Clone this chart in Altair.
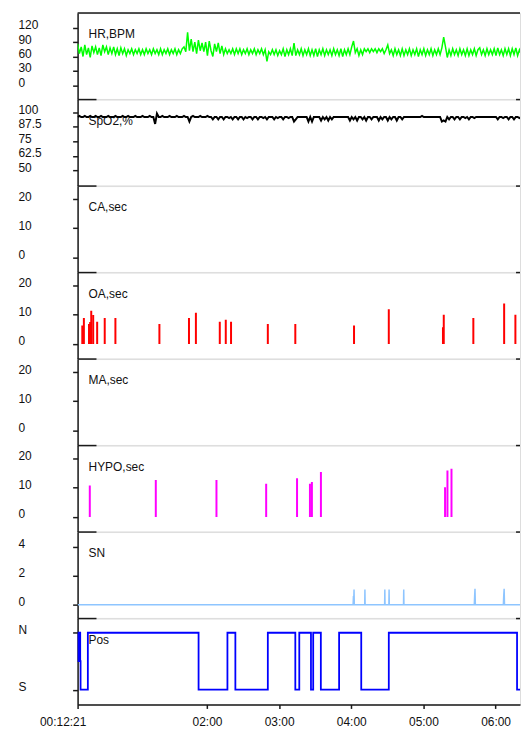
import altair as alt
import pandas as pd

# ---------------- data ----------------
START_H = 12 / 60 + 21 / 3600      # 00:12:21 expressed in hours
VIEW_END_H = 6.339                  # right edge of the visible window (hours)
STEP_H = 0.025                      # sampling interval of the HR / SpO2 traces (hours)

x_tick_values = [START_H, 2, 3, 4, 5, 6]
x_tick_labels = ["00:12:21", "02:00", "03:00", "04:00", "05:00", "06:00"]

hr_values = [
    86, 66, 80, 60, 84, 64, 78, 58, 82, 68,
    80, 64, 78, 62, 84, 70, 80, 64, 78, 66,
    80, 64, 76, 62, 78, 66, 76, 62, 74, 66,
    76, 64, 74, 66, 76, 64, 74, 64, 76, 66,
    74, 64, 76, 66, 74, 64, 76, 64, 74, 66,
    76, 64, 74, 66, 76, 64, 74, 66, 76, 80,
    70, 110, 72, 96, 70, 90, 66, 94, 72, 88,
    70, 90, 62, 92, 72, 60, 86, 70, 88, 66,
    82, 64, 76, 66, 74, 66, 76, 64, 76, 66,
    76, 64, 74, 66, 76, 64, 74, 66, 76, 64,
    74, 66, 76, 64, 74, 50, 70, 64, 74, 64,
    74, 62, 72, 64, 76, 60, 74, 64, 76, 62,
    88, 62, 74, 64, 76, 62, 74, 64, 76, 62,
    74, 62, 76, 60, 74, 64, 76, 62, 74, 64,
    74, 62, 76, 64, 74, 62, 76, 60, 74, 64,
    76, 64, 80, 92, 68, 76, 62, 74, 64, 76,
    70, 76, 68, 76, 70, 76, 68, 76, 70, 76,
    66, 74, 84, 66, 74, 62, 76, 64, 74, 62,
    76, 62, 74, 64, 76, 62, 74, 64, 76, 60,
    74, 64, 76, 62, 74, 64, 76, 62, 74, 64,
    76, 64, 78, 100, 80, 58, 74, 62, 76, 64,
    74, 62, 76, 64, 74, 62, 76, 62, 74, 64,
    76, 62, 74, 78, 64, 74, 62, 76, 64, 74,
    64, 76, 62, 78, 64, 74, 62, 76, 64, 76,
    62, 76, 64, 78, 62, 74, 64, 78, 62, 76, 66,
]

spo2_values = [
    96, 97, 96, 96, 97, 96, 96, 97, 96, 96,
    97, 96, 96, 97, 96, 96, 96, 97, 96, 96,
    96, 97, 96, 96, 96, 97, 96, 96, 97, 96,
    96, 96, 97, 96, 96, 96, 97, 96, 96, 96,
    97, 96, 96, 90, 99, 96, 96, 97, 96, 96,
    96, 97, 96, 96, 96, 97, 96, 96, 96, 97,
    96, 96, 92, 96, 97, 96, 96, 96, 97, 96,
    96, 96, 97, 96, 96, 94, 96, 96, 94, 96,
    96, 94, 96, 96, 95, 96, 94, 96, 96, 94,
    96, 96, 94, 96, 95, 96, 96, 94, 96, 96,
    94, 96, 96, 95, 96, 94, 96, 96, 96, 94,
    96, 95, 96, 96, 94, 96, 96, 95, 96, 96,
    92, 94, 96, 96, 96, 96, 96, 96, 92, 96,
    92, 96, 96, 96, 96, 93, 96, 94, 96, 93,
    96, 94, 96, 96, 96, 96, 96, 96, 96, 96,
    96, 93, 96, 94, 96, 93, 96, 96, 94, 96,
    93, 96, 96, 94, 96, 96, 96, 93, 96, 94,
    96, 96, 93, 96, 94, 96, 96, 93, 96, 96,
    94, 96, 96, 96, 96, 96, 96, 96, 96, 96,
    96, 97, 96, 96, 96, 96, 96, 96, 96, 96,
    96, 96, 92, 93, 92, 96, 94, 96, 96, 94,
    96, 96, 94, 96, 96, 95, 96, 94, 96, 96,
    95, 96, 96, 96, 96, 96, 96, 96, 96, 96,
    96, 96, 96, 94, 96, 96, 95, 96, 96, 94,
    96, 96, 94, 96, 96, 95, 96, 94, 96, 96, 96,
]

ca_times, ca_secs = [], []
oa_times = [0.271, 0.293, 0.364, 0.380, 0.395, 0.422, 0.477, 0.582, 0.730, 1.340,
            1.750, 1.846, 2.177, 2.260, 2.333, 2.843, 3.224, 4.038, 4.520, 5.271,
            5.282, 5.692, 6.119, 6.275, 6.445]
oa_secs = [6.3, 8.9, 6.8, 7.5, 11.4, 9.9, 7.6, 8.9, 8.9, 6.8,
           8.9, 10.7, 7.6, 8.3, 7.6, 6.8, 6.8, 6.3, 11.9, 5.7,
           10.0, 8.9, 13.9, 10.0, 8.9]
ma_times, ma_secs = [], []
hypo_times = [0.375, 1.290, 2.131, 2.820, 3.248, 3.427, 3.454, 3.579, 5.300, 5.333, 5.389]
hypo_secs = [10.8, 12.7, 12.7, 11.4, 13.3, 11.4, 12.0, 15.4, 10.2, 15.9, 16.5]

sn_times = [START_H, 4.025, 4.030, 4.034, 4.038, 4.042, 4.186, 4.189, 4.192,
            4.462, 4.465, 4.468, 4.521, 4.524, 4.527, 4.724, 4.727, 4.730,
            5.705, 5.710, 5.715, 5.720, 6.108, 6.113, 6.119, 6.124, 6.45]
sn_vals = [0, 0, 0.6, 0.3, 1.05, 0, 0, 1.05, 0,
           0, 1.05, 0, 0, 1.05, 0, 0, 1.05, 0,
           0, 0.6, 1.1, 0, 0, 0.6, 1.1, 0, 0]

# body position: 1 = N, 0 = S, 0.5 = intermediate
pos_times = [START_H, 0.212, 0.217, 0.222, 0.227, 0.232, 0.237, 0.242, 0.247, 0.348,
             1.883, 2.283, 2.393, 2.843, 3.224, 3.279, 3.441, 3.472, 3.578, 3.831,
             4.138, 4.520, 6.298, 6.45]
pos_codes = [1, 0.5, 1, 0.5, 1, 0.5, 1, 0.5, 0, 1,
             0, 1, 0, 1, 0, 1, 0, 1, 0, 1,
             0, 1, 0, 0]

panel_names = ["HR,BPM", "SpO2,%", "CA,sec", "OA,sec", "MA,sec", "HYPO,sec", "SN", "Pos"]
panel_domains = [[-28, 150], [37, 111], [-5, 24.5], [-5, 24.5], [-5, 24.5], [-5, 24.5], [-0.9, 5], [-0.26, 1.25]]
panel_ticks = [[0, 30, 60, 90, 120], [50, 62.5, 75, 87.5, 100], [0, 10, 20], [0, 10, 20],
               [0, 10, 20], [0, 10, 20], [0, 2, 4], [0, 1]]
pos_tick_labels = ["S", "N"]

# ---------------- chart ----------------
W = 445
H = 86.4
FONT = "Liberation Sans"
INK = "#1a1a1a"
TXT = "#111111"
one = pd.DataFrame({"k": [0]})

hr_df = pd.DataFrame({"t": [START_H + i * STEP_H for i in range(len(hr_values))], "v": hr_values})
spo2_df = pd.DataFrame({"t": [START_H + i * STEP_H for i in range(len(spo2_values))], "v": spo2_values})
ca_df = pd.DataFrame({"t": pd.Series(ca_times, dtype=float), "v": pd.Series(ca_secs, dtype=float)})
oa_df = pd.DataFrame({"t": oa_times, "v": oa_secs})
ma_df = pd.DataFrame({"t": pd.Series(ma_times, dtype=float), "v": pd.Series(ma_secs, dtype=float)})
hypo_df = pd.DataFrame({"t": hypo_times, "v": hypo_secs})
sn_df = pd.DataFrame({"t": sn_times, "v": sn_vals})
pos_df = pd.DataFrame({"t": pos_times, "v": pos_codes})

x_scale = alt.Scale(domain=[START_H, VIEW_END_H], nice=False, zero=False)

x_label_expr = " : ".join(
    f"abs(datum.value - {v}) < 0.01 ? '{l}'" for v, l in zip(x_tick_values, x_tick_labels)
) + " : ''"

x_axis = alt.Axis(
    values=x_tick_values, labelExpr=x_label_expr, title=None, grid=False,
    tickSize=4, tickWidth=1.5, tickColor=INK, domainColor=INK, domainWidth=1.5,
    labelFont=FONT, labelFontSize=12, labelColor=TXT, labelPadding=8,
    labelFlush=False, labelOverlap=False,
    labelOffset={"condition": {"test": "datum.value < 1", "value": -15}, "value": 0},
)


def y_axis(values, expr=None):
    kw = dict(values=values, title=None, grid=False, tickSize=5, tickWidth=1.5, tickColor=INK,
              domainColor=INK, domainWidth=1.5, labelAlign="left", labelPadding=55,
              labelBaseline="middle", labelFont=FONT, labelFontSize=12, labelColor=TXT,
              labelOffset=-3, labelFlush=False, labelOverlap=False, format=".1~f")
    if expr:
        kw["labelExpr"] = expr
    return alt.Axis(**kw)


def enc(i, last=False):
    xe = alt.X("t:Q", scale=x_scale, axis=x_axis if last else None)
    expr = None
    if i == 7:
        expr = f"datum.value >= 0.5 ? '{pos_tick_labels[1]}' : '{pos_tick_labels[0]}'"
    ye = alt.Y("v:Q", scale=alt.Scale(domain=panel_domains[i], nice=False, zero=False),
               axis=y_axis(panel_ticks[i], expr))
    return xe, ye


def line_layer(i, df, color, width, interp="linear"):
    xe, ye = enc(i, last=(i == 7))
    return alt.Chart(df).mark_line(color=color, strokeWidth=width, clip=True,
                                   interpolate=interp).encode(x=xe, y=ye)


def event_layer(i, df, color):
    xe, ye = enc(i)
    return alt.Chart(df).mark_rule(color=color, strokeWidth=2, clip=True).encode(
        x=xe, y=ye, y2=alt.datum(0))


data_layers = [
    line_layer(0, hr_df, "#00ff00", 1.5),
    line_layer(1, spo2_df, "#000000", 2),
    event_layer(2, ca_df, "#ff0000"),
    event_layer(3, oa_df, "#ff0000"),
    event_layer(4, ma_df, "#ff0000"),
    event_layer(5, hypo_df, "#ff00ff"),
    line_layer(6, sn_df, "#8ec5ff", 1.5),
    line_layer(7, pos_df, "#0000ff", 1.8, "step-after"),
]

panels = []
for i, name in enumerate(panel_names):
    layers = []
    if i == 0:
        layers.append(alt.Chart(one).mark_rule(color=INK, strokeWidth=1.5).encode(
            x=alt.value(0), x2=alt.value(W), y=alt.value(0)))
    else:
        layers.append(alt.Chart(one).mark_rule(color=INK, strokeWidth=1.5).encode(
            x=alt.value(0), x2=alt.value(19), y=alt.value(0)))
        layers.append(alt.Chart(one).mark_rule(color=INK, strokeWidth=1.5).encode(
            x=alt.value(W - 4), x2=alt.value(W), y=alt.value(0)))
    layers.append(alt.Chart(one).mark_text(text=name, align="left", baseline="middle",
                                           font=FONT, fontSize=12, color=TXT).encode(
        x=alt.value(11), y=alt.value(21.5)))
    layers.append(data_layers[i])
    panels.append(alt.layer(*layers).properties(width=W, height=H))

chart = alt.vconcat(*panels, spacing=0, bounds="flush").properties(
    padding={"left": 9, "top": 1, "right": 0, "bottom": 0},
    background="white",
).configure_view(stroke=None).configure(font=FONT)

chart.save("out.html", embed_options={"renderer": "svg", "actions": False})
